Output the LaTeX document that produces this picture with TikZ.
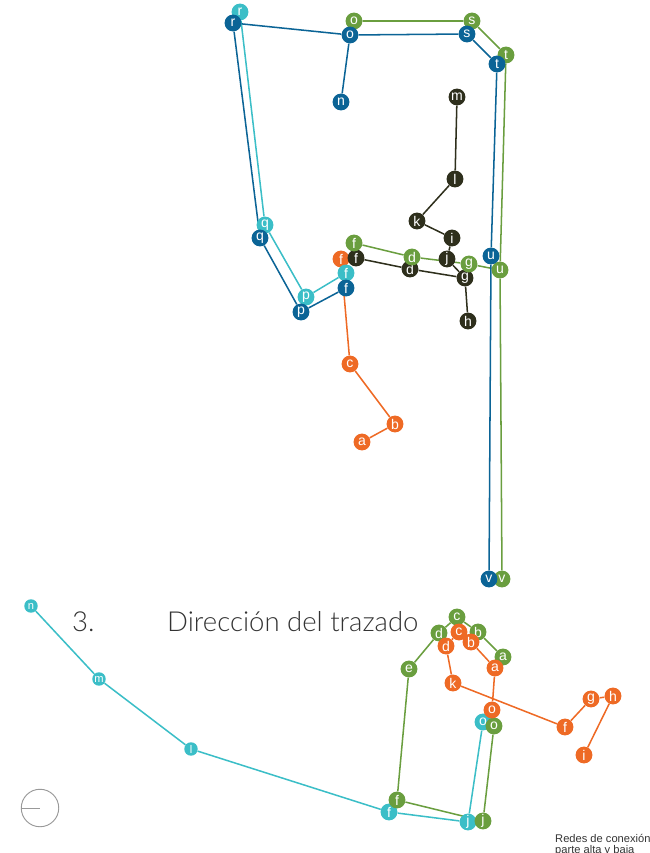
\documentclass[tikz,border=0pt]{standalone}
\usepackage{fontspec}
\setmainfont{Liberation Sans}
\newfontfamily\titlefont{Lato Light}
\usetikzlibrary{backgrounds}
\definecolor{tblue}{HTML}{0B6496}
\definecolor{tcyan}{HTML}{3BBEC7}
\definecolor{tgreen}{HTML}{6A9E3F}
\definecolor{torange}{HTML}{EE6A25}
\definecolor{tdark}{HTML}{2E2F1C}
\tikzset{
  dot/.style={circle,inner sep=0pt,minimum size=14.4pt,text=white,
    font=\fontsize{12}{12}\selectfont},
  smalldot/.style={dot,minimum size=11.5pt,font=\fontsize{9.5}{9.5}\selectfont},
  bdot/.style={dot,fill=tblue}, cdot/.style={dot,fill=tcyan},
  gdot/.style={dot,fill=tgreen}, odot/.style={dot,fill=torange},
  kdot/.style={dot,fill=tdark},
  wire/.style={line width=1.3pt},
}
\begin{document}
\begin{tikzpicture}[x=0.03cm,y=-0.03cm]
\useasboundingbox (0,0) rectangle (649,853);

%%%%%%%%%%%%%%%%%%%%%%%%%%%%%%%%%%%%%%

\node[kdot] (km) at (457,97) {m};
\node[kdot] (kl) at (455,179) {l};
\node[kdot] (kk) at (417,221) {k};
\node[kdot] (ki) at (452,238) {i};
\node[kdot] (kj) at (447,259) {j};
\node[kdot] (kg) at (465,278) {g};
\node[kdot] (kh) at (468,321) {h};
\node[kdot] (kd) at (410,269) {d};
\node[odot] (of) at (341,259) {f};
\node[kdot] (kf) at (356,258) {f};

\node[odot] (oc) at (350,364) {c};
\node[odot] (ob) at (395,424) {b};
\node[odot] (oa) at (362,442) {a};

%%%%%%%%%%%%%%%%%%%%%%%%%%%%%%%%%%%%%%

\node[cdot] (cr) at (240,12) {r};
\node[cdot] (cq) at (265,225) {q};
\node[cdot] (cp) at (306,297) {p};
\node[cdot] (cf) at (346,273) {f};

\node[gdot] (go) at (354,21) {o};
\node[gdot] (gs) at (472,21) {s};
\node[gdot] (gt) at (506,55) {t};
\node[gdot] (gf) at (354,243) {f};
\node[gdot] (gd) at (412,257) {d};
\node[gdot] (gg) at (469,264) {g};
\node[gdot] (gu) at (500,270) {u};
\node[gdot] (gv) at (502,579) {v};

\node[bdot] (br) at (233,23) {r};
\node[bdot] (bo) at (350,35) {o};
\node[bdot] (bn) at (341,102) {n};
\node[bdot] (bs) at (467,34) {s};
\node[bdot] (bt) at (497,64) {t};
\node[bdot] (bu) at (491,256) {u};
\node[bdot] (bv) at (489,579) {v};
\node[bdot] (bq) at (260,238) {q};
\node[bdot] (bp) at (301,312) {p};
\node[bdot] (bf) at (346,288) {f};

%%%%%%%%%%%%%%%%%%%%%%%%%%%%%%%%%%%%%%

\node[cdot,smalldot] (cn) at (31,606) {n};
\node[cdot,smalldot] (cm) at (99,679) {m};
\node[cdot,smalldot] (cl) at (191,749) {l};
\node[cdot] (cf2) at (389,812) {f};
\node[cdot] (cj) at (468,822) {j};
\node[cdot] (co) at (483,722) {o};

\node[gdot] (gc2) at (457,617) {c};
\node[gdot] (gb2) at (478,632) {b};
\node[gdot] (ga2) at (503,657) {a};
\node[gdot] (gd2) at (439,633) {d};
\node[gdot] (ge2) at (409,669) {e};
\node[gdot] (gf2) at (397,800) {f};
\node[gdot] (gj2) at (483,821) {j};
\node[gdot] (go2) at (494,726) {o};

\node[odot] (oc2) at (459,632) {c};
\node[odot] (ob2) at (471,642) {b};
\node[odot] (od2) at (446,646) {d};
\node[odot] (oa2) at (495,668) {a};
\node[odot] (ok2) at (453,683) {k};
\node[odot] (oo2) at (492,710) {o};
\node[odot] (of2) at (565,727) {f};
\node[odot] (og2) at (591,699) {g};
\node[odot] (oh2) at (613,696) {h};
\node[odot] (oi2) at (584,755) {i};

%%%%%%%%%%%%%%%%%%%%%%%%%%%%%%%%%%%%%%

\begin{scope}[on background layer]
\draw[wire,tdark] (km) -- (kl) -- (kk) -- (ki) -- (kj) -- (kg) -- (kh);
\draw[wire,tdark] (kf) -- (kd) -- (kg);
\draw[wire,torange] (of) -- (oc) -- (ob) -- (oa);
\draw[wire,tcyan] (cr) -- (cq) -- (cp) -- (cf);
\draw[wire,tgreen] (go) -- (gs) -- (gt) -- (gu) -- (gv);
\draw[wire,tgreen] (gf) -- (gd) -- (gg) -- (gu);
\draw[wire,tblue] (bn) -- (bo) -- (br) -- (bq) -- (bp) -- (bf);
\draw[wire,tblue] (bo) -- (bs) -- (bt) -- (bu) -- (bv);
\draw[wire,tcyan] (cn) -- (cm) -- (cl) -- (cf2) -- (cj) -- (co);
\draw[wire,tgreen] (ga2) -- (gb2) -- (gc2) -- (gd2) -- (ge2) -- (gf2) -- (gj2) -- (go2);
\draw[wire,torange] (oo2) -- (oa2) -- (ob2) -- (oc2) -- (od2) -- (ok2) -- (of2) -- (og2) -- (oh2) -- (oi2);
\end{scope}

%%%%%%%%%%%%%%%%%%%%%%%%%%%%%%%%%%%%%%

\node[anchor=base west,text=black!80,font=\titlefont\fontsize{23.5}{28}\selectfont,inner sep=0pt] (num) at (72,631) {3.};
\node[anchor=base west,text=black!80,font=\titlefont\fontsize{23.5}{28}\selectfont,inner sep=0pt] (title) at (167,631) {Dirección del trazado};

\node[anchor=base west,text=black!80,font=\fontsize{9.5}{9}\selectfont,inner sep=0pt,align=left] (note) at (555,853) {Redes de conexión\\parte alta y baja};

\node[circle,draw=black!40,line width=0.8pt,minimum size=32pt,inner sep=0pt] (dial) at (40,808) {};
\draw[black!40,line width=0.8pt] (dial.west) -- (dial.center);

\end{tikzpicture}
\end{document}
